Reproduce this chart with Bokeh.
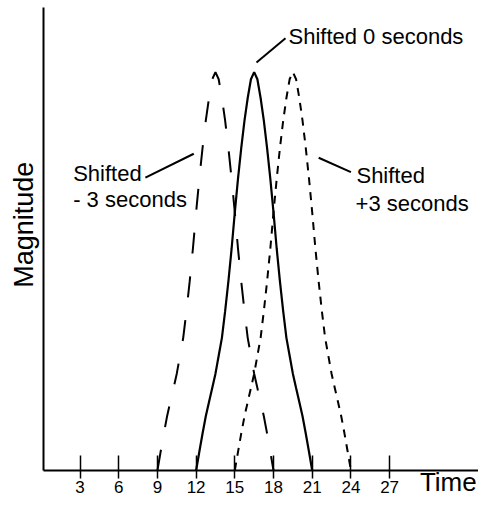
import math
from bokeh.plotting import figure
from bokeh.models import Range1d, FixedTicker, Label
from bokeh.embed import file_html
from bokeh.resources import INLINE

# ---- data ----
time_ticks = [3, 6, 9, 12, 15, 18, 21, 24, 27]

pulse_magnitude = [0.0, 0.047, 0.093, 0.136, 0.172, 0.207, 0.243, 0.288, 0.333,
                   0.400, 0.474, 0.556, 0.648, 0.733, 0.810, 0.878, 0.935, 0.982,
                   1.000,
                   0.982, 0.935, 0.878, 0.810, 0.733, 0.648, 0.556, 0.474, 0.400,
                   0.333, 0.288, 0.243, 0.207, 0.172, 0.136, 0.093, 0.047, 0.0]

time_shift_minus3 = [9.0, 9.25, 9.5, 9.75, 10.0, 10.25, 10.5, 10.75, 11.0, 11.25,
                     11.5, 11.75, 12.0, 12.25, 12.5, 12.75, 13.0, 13.25, 13.5,
                     13.75, 14.0, 14.25, 14.5, 14.75, 15.0, 15.25, 15.5, 15.75,
                     16.0, 16.25, 16.5, 16.75, 17.0, 17.25, 17.5, 17.75, 18.0]

time_shift_0 = [12.0, 12.25, 12.5, 12.75, 13.0, 13.25, 13.5, 13.75, 14.0, 14.25,
                14.5, 14.75, 15.0, 15.25, 15.5, 15.75, 16.0, 16.25, 16.5,
                16.75, 17.0, 17.25, 17.5, 17.75, 18.0, 18.25, 18.5, 18.75,
                19.0, 19.25, 19.5, 19.75, 20.0, 20.25, 20.5, 20.75, 21.0]

time_shift_plus3 = [15.0, 15.25, 15.5, 15.75, 16.0, 16.25, 16.5, 16.75, 17.0, 17.25,
                    17.5, 17.75, 18.0, 18.25, 18.5, 18.75, 19.0, 19.25, 19.5,
                    19.75, 20.0, 20.25, 20.5, 20.75, 21.0, 21.25, 21.5, 21.75,
                    22.0, 22.25, 22.5, 22.75, 23.0, 23.25, 23.5, 23.75, 24.0]

# annotation texts with their anchor (time, magnitude)
annotation_texts = ["Shifted 0 seconds", "Shifted", "- 3 seconds", "Shifted", "+3 seconds"]
annotation_x = [19.16, 2.47, 2.47, 24.43, 24.36]
annotation_y = [1.089, 0.745, 0.679, 0.740, 0.671]

# leader lines (from curve towards text)
leader_x0 = [16.68, 8.07, 21.50]
leader_y0 = [1.024, 0.735, 0.785]
leader_x1 = [18.93, 11.82, 24.00]
leader_y1 = [1.085, 0.795, 0.749]

FONT = "Liberation Sans"

X_START, X_END = -3.163, 33.89
Y_START, Y_END = -0.0678, 1.1797
AXIS_TOP = 1.162

p = figure(width=478, height=497,
           x_range=Range1d(X_START, X_END), y_range=Range1d(Y_START, Y_END),
           output_backend="svg", toolbar_location=None,
           min_border_left=0, min_border_right=0,
           min_border_top=0, min_border_bottom=0)

p.xgrid.visible = False
p.ygrid.visible = False
p.outline_line_color = None
p.background_fill_color = "white"
p.border_fill_color = "white"

xa = p.xaxis[0]
xa.fixed_location = 0
xa.bounds = (0.2, X_END)
xa.ticker = FixedTicker(ticks=time_ticks, minor_ticks=[])
xa.major_tick_in = 15
xa.major_tick_out = 8
xa.major_tick_line_width = 1.5
xa.major_tick_line_color = "black"
xa.axis_line_width = 2
xa.axis_line_color = "black"
xa.minor_tick_line_color = None
xa.major_label_text_font = FONT
xa.major_label_text_font_size = "17px"
xa.major_label_text_color = "black"
xa.major_label_standoff = 3

ya = p.yaxis[0]
ya.fixed_location = 0.2
ya.bounds = (0, AXIS_TOP)
ya.ticker = FixedTicker(ticks=[], minor_ticks=[])
ya.major_tick_in = 0
ya.major_tick_out = 0
ya.minor_tick_line_color = None
ya.axis_line_width = 2
ya.axis_line_color = "black"
ya.major_label_text_font_size = "0px"

p.line(time_shift_minus3, pulse_magnitude, line_color="black", line_width=2,
       line_dash="21 23")
p.line(time_shift_0, pulse_magnitude, line_color="black", line_width=2.2)
p.line(time_shift_plus3, pulse_magnitude, line_color="black", line_width=2,
       line_dash="8 7")

p.segment(x0=leader_x0, y0=leader_y0, x1=leader_x1, y1=leader_y1,
          line_color="black", line_width=2)

for t, x, y in zip(annotation_texts, annotation_x, annotation_y):
    p.add_layout(Label(x=x, y=y, text=t, text_font=FONT, text_font_size="22px",
                       text_color="black", text_align="left",
                       text_baseline="alphabetic"))

p.add_layout(Label(x=-1.38, y=0.617, text="Magnitude", angle=math.pi / 2,
                   text_font=FONT, text_font_size="27px", text_color="black",
                   text_align="center", text_baseline="middle"))

p.add_layout(Label(x=33.75, y=-0.030, text="Time", text_font=FONT,
                   text_font_size="26px", text_color="black",
                   text_align="right", text_baseline="alphabetic"))

open("out.html", "w").write(file_html(p, INLINE))
